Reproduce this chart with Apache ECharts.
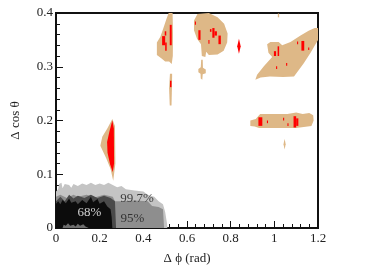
<!DOCTYPE html>
<html><head><meta charset="utf-8">
<script src="https://cdn.jsdelivr.net/npm/echarts@6/dist/echarts.min.js"></script>
<style>html,body{margin:0;padding:0;background:#fff}#c{width:374px;height:270px}</style>
</head><body><div id="c"></div>
<script>
// ---- axis ----
const xRange = [0, 1.2];
const yRange = [0, 0.4];
const xName = 'Δ ϕ (rad)';
const yName = 'Δ cos θ';

// ---- confidence contours near origin ----
const contour997 = [[0,0],[0,0.068],[0.01,0.072],[0.014,0.082],[0.025,0.084],[0.03,0.074],[0.04,0.082],[0.06,0.08],[0.07,0.075],[0.08,0.082],[0.1,0.078],[0.12,0.083],[0.14,0.08],[0.16,0.084],[0.18,0.08],[0.2,0.083],[0.22,0.08],[0.24,0.084],[0.26,0.08],[0.28,0.076],[0.3,0.078],[0.32,0.072],[0.36,0.07],[0.4,0.068],[0.42,0.062],[0.45,0.058],[0.47,0.05],[0.49,0.044],[0.5,0.03],[0.508,0.01],[0.51,0]];
const contour95 = [[0,0],[0,0.058],[0.02,0.062],[0.05,0.056],[0.08,0.062],[0.1,0.058],[0.14,0.062],[0.18,0.057],[0.22,0.062],[0.26,0.058],[0.27,0.05],[0.3,0.05],[0.36,0.051],[0.42,0.05],[0.44,0.041],[0.47,0.039],[0.49,0.035],[0.495,0]];
const contourDark = [[0,0],[0,0.05],[0.02,0.058],[0.04,0.05],[0.06,0.062],[0.08,0.055],[0.1,0.06],[0.13,0.056],[0.16,0.062],[0.19,0.056],[0.22,0.06],[0.25,0.056],[0.27,0.05],[0.275,0]];
const contour68 = [[0,0],[0,0.045],[0.01,0.05],[0.02,0.044],[0.03,0.052],[0.045,0.046],[0.06,0.055],[0.07,0.047],[0.09,0.05],[0.1,0.044],[0.12,0.052],[0.14,0.046],[0.16,0.058],[0.17,0.048],[0.19,0.054],[0.2,0.045],[0.22,0.05],[0.235,0.04],[0.25,0.035],[0.255,0.02],[0.258,0]];
const contourSpots = [[0.03,0],[0.035,0.006],[0.045,0.004],[0.055,0.009],[0.065,0.004],[0.08,0.006],[0.09,0.003],[0.1,0.008],[0.11,0.004],[0.125,0.007],[0.135,0.003],[0.15,0]];

// ---- tan regions ----
const blobA = [[0.258,0.203],[0.27,0.19],[0.272,0.12],[0.262,0.088],[0.25,0.11],[0.23,0.13],[0.203,0.153],[0.212,0.17],[0.235,0.185]];
const blobB = [[0.516,0.4],[0.534,0.4],[0.536,0.36],[0.535,0.32],[0.53,0.305],[0.518,0.31],[0.5,0.31],[0.482,0.316],[0.462,0.322],[0.462,0.345],[0.478,0.356],[0.492,0.372],[0.505,0.388]];
const blobB2 = [[0.522,0.287],[0.532,0.287],[0.531,0.26],[0.529,0.228],[0.521,0.228],[0.518,0.26]];
const blobC = [[0.648,0.398],[0.7,0.4],[0.74,0.392],[0.77,0.38],[0.786,0.362],[0.784,0.345],[0.768,0.33],[0.74,0.323],[0.7,0.322],[0.688,0.328],[0.684,0.318],[0.668,0.32],[0.664,0.342],[0.646,0.352],[0.632,0.368],[0.632,0.386]];
const blobC2 = [[0.665,0.313],[0.672,0.313],[0.673,0.298],[0.686,0.295],[0.686,0.288],[0.672,0.286],[0.67,0.276],[0.663,0.278],[0.662,0.287],[0.652,0.29],[0.652,0.296],[0.663,0.299]];
const blobE = [[0.913,0.276],[0.937,0.28],[0.98,0.282],[1.04,0.281],[1.09,0.282],[1.134,0.306],[1.166,0.326],[1.2,0.35],[1.2,0.372],[1.185,0.372],[1.157,0.367],[1.12,0.358],[1.074,0.346],[1.036,0.34],[1.02,0.346],[0.982,0.346],[0.967,0.342],[0.973,0.326],[0.99,0.318],[0.952,0.301],[0.921,0.285]];
const blobF = [[0.89,0.19],[0.91,0.189],[0.93,0.186],[1.0,0.186],[1.1,0.186],[1.17,0.19],[1.18,0.2],[1.178,0.21],[1.16,0.214],[1.13,0.212],[1.1,0.215],[1.06,0.212],[0.99,0.212],[0.935,0.212],[0.915,0.203],[0.89,0.2]];
const blobG = [[1.047,0.166],[1.052,0.156],[1.047,0.146],[1.042,0.156]];
const blobDot = [[1.016,0.392],[1.022,0.392],[1.022,0.399],[1.016,0.399]];

// ---- red (high density) regions ----
const redA = [[0.258,0.2],[0.265,0.185],[0.266,0.12],[0.26,0.104],[0.248,0.118],[0.236,0.14],[0.234,0.16],[0.245,0.18]];
const redD = [[0.838,0.352],[0.846,0.338],[0.838,0.324],[0.83,0.338]];
// rectangles: [x0, y0, x1, y1]
const redSpots = [
  [0.486,0.34,0.5,0.357],[0.5,0.33,0.507,0.345],[0.498,0.358,0.505,0.366],[0.521,0.34,0.53,0.378],
  [0.522,0.262,0.529,0.274],
  [0.652,0.35,0.662,0.368],[0.716,0.354,0.726,0.372],[0.726,0.358,0.737,0.366],[0.744,0.342,0.755,0.358],[0.698,0.343,0.703,0.35],[0.636,0.378,0.641,0.384],[0.705,0.365,0.712,0.37],
  [0.998,0.32,1.008,0.329],[1.015,0.32,1.022,0.338],[1.124,0.33,1.137,0.348],[1.104,0.342,1.109,0.347],[1.054,0.302,1.059,0.307],[1.008,0.296,1.013,0.301],[1.155,0.331,1.16,0.336],
  [0.927,0.19,0.945,0.206],[1.088,0.187,1.1,0.208],[1.1,0.19,1.11,0.204],[1.04,0.2,1.045,0.205],[0.966,0.195,0.971,0.2],[1.06,0.19,1.065,0.195]
];

// ---- labels ----
const labelData = [[0.153,0.028,'68%','#ffffff'],[0.371,0.055,'99.7%','#1a1a1a'],[0.35,0.018,'95%','#1a1a1a']];

function poly(points, color, z){
  return {type:'custom', coordinateSystem:'cartesian2d', silent:true, z:z,
    data:[points[0]],
    renderItem:function(params, api){
      return {type:'polygon', shape:{points: points.map(function(p){return api.coord(p);})}, style:{fill:color}};
    }};
}

const serif = "'Liberation Serif', serif";
const chart = echarts.init(document.getElementById('c'));
const series = [
  poly(contour997,'#c4c4c4',2), poly(contour95,'#8e8e8e',3), poly(contourDark,'#4a4a4a',4), poly(contour68,'#0c0c0c',5), poly(contourSpots,'#6e6e6e',6),
  poly(blobA,'#deb887',2), poly(blobB,'#deb887',2), poly(blobB2,'#deb887',2), poly(blobC,'#deb887',2), poly(blobC2,'#deb887',2),
  poly(blobE,'#deb887',2), poly(blobF,'#deb887',2), poly(blobG,'#deb887',2), poly(blobDot,'#deb887',2),
  poly(redA,'#ff0000',3), poly(redD,'#ff0000',3),
  {type:'custom', coordinateSystem:'cartesian2d', silent:true, z:4,
    data: redSpots,
    renderItem:function(params, api){
      const a = api.coord([api.value(0), api.value(1)]);
      const b = api.coord([api.value(2), api.value(3)]);
      return {type:'rect', shape:{x:a[0], y:b[1], width:b[0]-a[0], height:a[1]-b[1]}, style:{fill:'#ff0000'}};
    }},
  {type:'scatter', symbolSize:0, silent:true, z:10,
    data: labelData.map(function(d){return {value:[d[0],d[1]], label:{color:d[3]}, name:d[2]};}),
    label:{show:true, position:'inside', formatter:function(p){return p.name;}, fontFamily:serif, fontSize:13}}
];

function axis(name, range, interval, gap, margin){
  return {type:'value', min:range[0], max:range[1], interval:interval,
    name:name, nameLocation:'middle', nameGap:gap, nameTextStyle:{fontFamily:serif, fontSize:13, color:'#222'},
    axisLine:{show:true, lineStyle:{color:'#111', width:2}},
    axisTick:{show:true, inside:true, length:7, lineStyle:{color:'#111', width:1}},
    minorTick:{show:true, splitNumber:5, length:4, lineStyle:{color:'#111', width:1}},
    splitLine:{show:false},
    axisLabel:{fontFamily:serif, fontSize:13, color:'#222', margin:margin}};
}

chart.setOption({
  animation:false,
  grid:{left:56, right:56, top:13, bottom:41, show:true, borderColor:'#111', borderWidth:2},
  xAxis: axis(xName, xRange, 0.2, 24, 4),
  yAxis: axis(yName, yRange, 0.1, 34, 3),
  series: series
});
</script></body></html>
